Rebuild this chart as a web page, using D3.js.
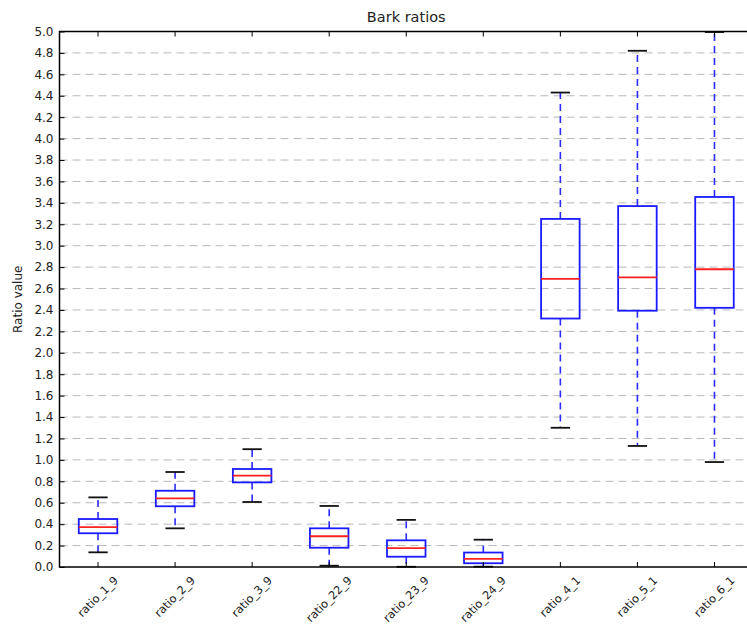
<!DOCTYPE html>
<html>
<head>
<meta charset="utf-8">
<script src="https://cdn.jsdelivr.net/npm/d3@7"></script>
<style>
  body { margin: 0; background: #fff; }
  svg { display: block; font-family: "DejaVu Sans", sans-serif; }
</style>
</head>
<body>
<div id="chart"></div>
<script>
// box statistics
const categories = ["ratio_1_9", "ratio_2_9", "ratio_3_9", "ratio_22_9", "ratio_23_9",
                    "ratio_24_9", "ratio_4_1", "ratio_5_1", "ratio_6_1"];
const whiskerLow  = [0.137, 0.361, 0.607, 0.012, 0.002, 0.003, 1.30, 1.13, 0.98];
const q1          = [0.315, 0.567, 0.790, 0.180, 0.096, 0.035, 2.32, 2.393, 2.42];
const medians     = [0.373, 0.641, 0.853, 0.287, 0.177, 0.076, 2.69, 2.705, 2.78];
const q3          = [0.448, 0.712, 0.915, 0.361, 0.249, 0.135, 3.25, 3.37, 3.455];
const whiskerHigh = [0.650, 0.887, 1.100, 0.570, 0.440, 0.255, 4.43, 4.82, 4.995];
const yTicks = d3.range(0, 5.01, 0.2).map(v => +v.toFixed(1));

const width = 747, height = 627;
// plot area (right edge runs a bit past the picture, like the original)
const mLeft = 59.5, mRight = 753, mTop = 31.5, mBottom = 567;

const svg = d3.select("#chart")
  .append("svg")
  .attr("width", width)
  .attr("height", height);

svg.append("rect").attr("width", width).attr("height", height).attr("fill", "#fff");

const x = d3.scaleBand()
  .domain(categories)
  .range([mLeft, mRight])
  .padding(0);

const y = d3.scaleLinear()
  .domain([0, 5])
  .range([mBottom, mTop]);

const cx = c => x(c) + x.bandwidth() / 2;
const boxW = x.bandwidth() * 0.5;
const capW = x.bandwidth() * 0.25;

// grid
svg.append("g")
  .selectAll("line")
  .data(yTicks.filter(v => v > 0 && v < 5))
  .enter()
  .append("line")
  .attr("x1", mLeft).attr("x2", mRight)
  .attr("y1", d => y(d)).attr("y2", d => y(d))
  .attr("stroke", "#b8b8b8")
  .attr("stroke-width", 1)
  .attr("stroke-dasharray", "8,5");

const data = categories.map((c, i) => ({
  c, lo: whiskerLow[i], q1: q1[i], med: medians[i], q3: q3[i], hi: whiskerHigh[i]
}));

const g = svg.append("g").selectAll("g").data(data).enter().append("g");

// whiskers
g.append("line")
  .attr("x1", d => cx(d.c)).attr("x2", d => cx(d.c))
  .attr("y1", d => y(d.q3)).attr("y2", d => y(d.hi))
  .attr("stroke", "#2b2bff").attr("stroke-width", 1.6)
  .attr("stroke-dasharray", "7,5");
g.append("line")
  .attr("x1", d => cx(d.c)).attr("x2", d => cx(d.c))
  .attr("y1", d => y(d.q1)).attr("y2", d => y(d.lo))
  .attr("stroke", "#2b2bff").attr("stroke-width", 1.6)
  .attr("stroke-dasharray", "7,5");

// caps
["lo", "hi"].forEach(k => {
  g.append("line")
    .attr("x1", d => cx(d.c) - capW / 2).attr("x2", d => cx(d.c) + capW / 2)
    .attr("y1", d => y(d[k])).attr("y2", d => y(d[k]))
    .attr("stroke", "#111").attr("stroke-width", 1.8);
});

// boxes
g.append("rect")
  .attr("x", d => cx(d.c) - boxW / 2)
  .attr("width", boxW)
  .attr("y", d => y(d.q3))
  .attr("height", d => y(d.q1) - y(d.q3))
  .attr("fill", "none")
  .attr("stroke", "#1a1aff")
  .attr("stroke-width", 1.8);

// medians
g.append("line")
  .attr("x1", d => cx(d.c) - boxW / 2).attr("x2", d => cx(d.c) + boxW / 2)
  .attr("y1", d => y(d.med)).attr("y2", d => y(d.med))
  .attr("stroke", "#ff2020").attr("stroke-width", 1.8);

// frame
svg.append("rect")
  .attr("x", mLeft).attr("y", mTop)
  .attr("width", mRight - mLeft).attr("height", mBottom - mTop)
  .attr("fill", "none").attr("stroke", "#000").attr("stroke-width", 1.5);

// y axis (ticks point inward)
const yAxis = svg.append("g")
  .attr("transform", `translate(${mLeft},0)`)
  .call(d3.axisRight(y).tickValues(yTicks).tickSize(5).tickFormat(""));
yAxis.select(".domain").remove();
yAxis.selectAll("line").attr("stroke", "#000");

svg.append("g").selectAll("text")
  .data(yTicks)
  .enter()
  .append("text")
  .attr("x", mLeft - 6)
  .attr("y", d => y(d))
  .attr("dy", "0.36em")
  .attr("text-anchor", "end")
  .attr("font-size", 12)
  .attr("fill", "#222")
  .text(d => d.toFixed(1));

// x ticks top and bottom, pointing inward
const xb = svg.append("g")
  .attr("transform", `translate(0,${mBottom})`)
  .call(d3.axisTop(x).tickSize(5).tickFormat(""));
xb.select(".domain").remove();
xb.selectAll("line").attr("stroke", "#000");
const xt = svg.append("g")
  .attr("transform", `translate(0,${mTop})`)
  .call(d3.axisBottom(x).tickSize(5).tickFormat(""));
xt.select(".domain").remove();
xt.selectAll("line").attr("stroke", "#000");

// rotated category labels, centred under the tick like matplotlib
const labels = svg.append("g").selectAll("text")
  .data(categories)
  .enter()
  .append("text")
  .attr("text-anchor", "end")
  .attr("font-size", 11.3)
  .attr("fill", "#222")
  .attr("transform", d => `translate(${cx(d)},${mBottom + 10}) rotate(-45)`)
  .text(d => d);

labels.each(function(d) {
  const r = this.getBoundingClientRect();
  const dx = cx(d) - (r.left + r.width / 2);
  const dy = (mBottom + 7) - r.top;
  d3.select(this).attr("transform", `translate(${cx(d) + dx},${mBottom + 10 + dy}) rotate(-45)`);
});

// title and axis label
svg.append("text")
  .attr("x", (mLeft + mRight) / 2)
  .attr("y", 22)
  .attr("text-anchor", "middle")
  .attr("font-size", 14.5)
  .attr("fill", "#222")
  .text("Bark ratios");

svg.append("text")
  .attr("transform", `translate(22,${(mTop + mBottom) / 2}) rotate(-90)`)
  .attr("text-anchor", "middle")
  .attr("font-size", 12)
  .attr("fill", "#222")
  .text("Ratio value");
</script>
</body>
</html>
